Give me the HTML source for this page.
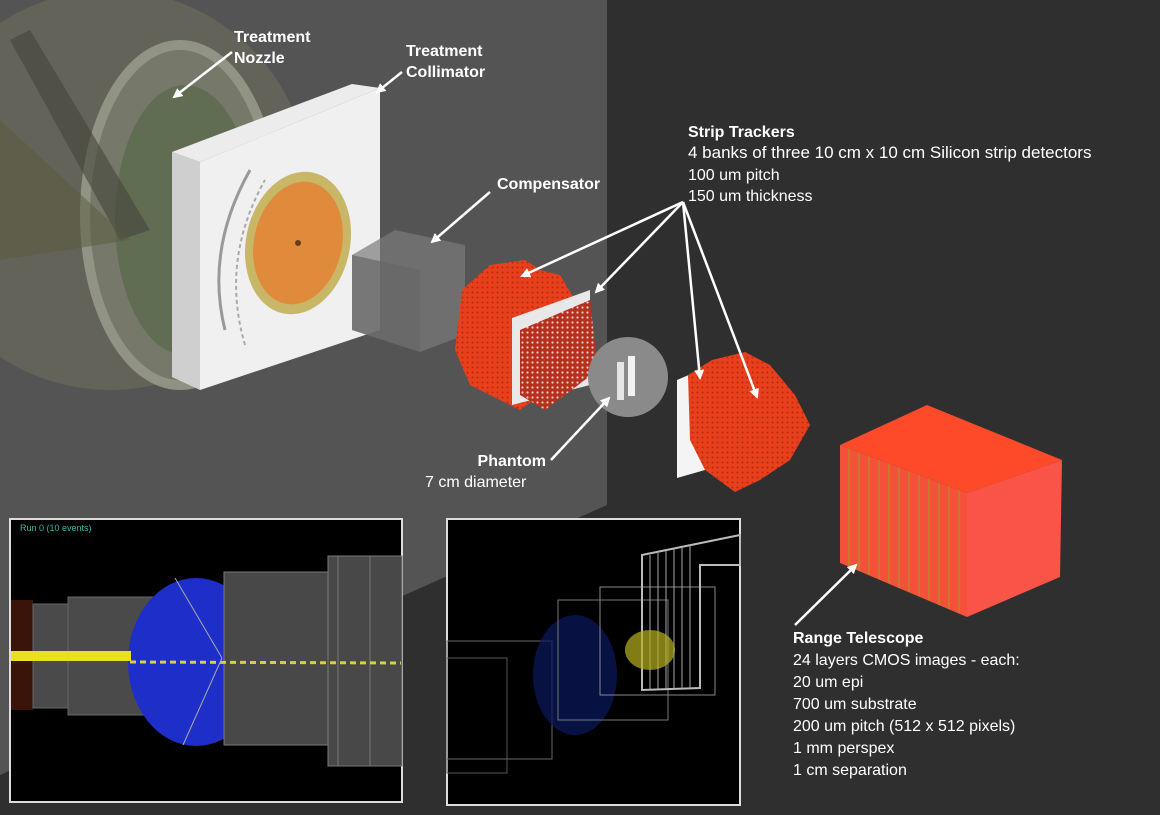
<!DOCTYPE html>
<html><head><meta charset="utf-8"><style>
html,body{margin:0;padding:0;background:#2f2f2f;}
svg{display:block}
text{font-family:"Liberation Sans",Arial,sans-serif;fill:#fff;font-size:16px}
.b{font-weight:bold}
</style></head><body>
<svg width="1160" height="815" viewBox="0 0 1160 815" xmlns="http://www.w3.org/2000/svg">
<defs>
<marker id="ah" markerWidth="10" markerHeight="10" refX="8" refY="5" orient="auto" markerUnits="userSpaceOnUse"><path d="M0,0 L10,5 L0,10 z" fill="#fff"/></marker>
<pattern id="dots" width="5" height="5" patternUnits="userSpaceOnUse"><rect width="5" height="5" fill="#e8401c"/><circle cx="2.5" cy="2.5" r="1" fill="#b52a10"/></pattern>
<pattern id="dots2" width="5" height="5" patternUnits="userSpaceOnUse"><rect width="5" height="5" fill="#b7301e"/><circle cx="2.5" cy="2.5" r="1.1" fill="#f0d0c8"/></pattern>
<pattern id="stripes" width="10" height="10" patternUnits="userSpaceOnUse"><rect width="10" height="10" fill="#f5503a"/><rect x="8" width="2" height="10" fill="#c9782c"/></pattern>
</defs>
<rect width="1160" height="815" fill="#2f2f2f"/>
<polygon points="0,0 607,0 607,505 0,775" fill="#545454"/>
<!-- nozzle -->
<ellipse cx="110" cy="190" rx="200" ry="200" fill="#67665a" opacity="0.8"/>
<ellipse cx="180" cy="215" rx="95" ry="170" fill="#7a7e6e" stroke="#9a9c8c" stroke-width="10" opacity="0.85"/>
<ellipse cx="185" cy="220" rx="70" ry="135" fill="#5a6a4c" opacity="0.75"/>
<polygon points="10,40 30,30 150,230 120,240" fill="#45443a" opacity="0.6"/>
<polygon points="0,120 130,240 0,260" fill="#5a5a3c" opacity="0.5"/>
<!-- collimator -->
<polygon points="172,152 200,162 200,390 172,377" fill="#cfcfcf"/>
<polygon points="172,152 352,84 380,88 200,162" fill="#ececec"/>
<polygon points="200,162 380,88 380,330 200,390" fill="#f0f0f0"/>
<path d="M225,330 Q205,250 250,170" stroke="#999" stroke-width="3" fill="none"/>
<path d="M245,345 Q220,260 265,180" stroke="#aaa" stroke-width="2" fill="none" stroke-dasharray="4 3"/>
<ellipse cx="298" cy="243" rx="52" ry="72" transform="rotate(12 298 243)" fill="#c9b768"/>
<ellipse cx="298" cy="243" rx="44" ry="62" transform="rotate(12 298 243)" fill="#e08a3c"/>
<circle cx="298" cy="243" r="3" fill="#6b3a1a"/>
<!-- compensator -->
<polygon points="352,255 395,230 465,245 465,335 420,352 352,330" fill="#7a7a7a" opacity="0.7"/>
<polygon points="352,255 420,270 420,352 352,330" fill="#666" opacity="0.7"/>
<!-- tracker 1 -->
<polygon points="462,290 490,265 525,260 540,270 560,275 575,300 585,350 570,380 540,395 520,410 470,385 455,350" fill="url(#dots)"/>
<polygon points="512,318 590,290 590,385 512,405" fill="#e8e8e8"/>
<polygon points="520,330 590,300 598,370 545,410 520,395" fill="url(#dots2)"/>
<!-- phantom -->
<circle cx="628" cy="377" r="40" fill="#8a8a8a"/>
<rect x="617" y="362" width="7" height="38" fill="#e6e6e6"/>
<rect x="628" y="356" width="7" height="40" fill="#f2f2f2"/>
<!-- tracker 2 -->
<polygon points="677,380 705,368 705,470 677,478" fill="#f4f4f4"/>
<polygon points="688,375 712,360 745,352 770,365 795,395 810,425 790,460 760,480 735,492 705,470 690,440" fill="url(#dots)"/>
<!-- range telescope -->
<polygon points="840,445 927,405 1062,460 967,493" fill="#ff4a2a"/>
<polygon points="840,445 967,493 967,617 840,563" fill="url(#stripes)"/>
<polygon points="967,493 1062,460 1060,577 967,617" fill="#fa5448"/>
<!-- labels -->
<text class="b" x="234" y="42">Treatment</text>
<text class="b" x="234" y="63">Nozzle</text>
<text class="b" x="406" y="56">Treatment</text>
<text class="b" x="406" y="77">Collimator</text>
<text class="b" x="497" y="189">Compensator</text>
<text class="b" x="688" y="137">Strip Trackers</text>
<text x="688" y="158" style="font-size:17px">4 banks of three 10 cm x 10 cm Silicon strip detectors</text>
<text x="688" y="180">100 um pitch</text>
<text x="688" y="201">150 um thickness</text>
<text class="b" x="546" y="466" text-anchor="end">Phantom</text>
<text x="425" y="487">7 cm diameter</text>
<text class="b" x="793" y="643">Range Telescope</text>
<text x="793" y="665">24 layers CMOS images - each:</text>
<text x="793" y="687">20 um epi</text>
<text x="793" y="709">700 um substrate</text>
<text x="793" y="731">200 um pitch (512 x 512 pixels)</text>
<text x="793" y="753">1 mm perspex</text>
<text x="793" y="775">1 cm separation</text>
<!-- arrows -->
<g stroke="#fff" stroke-width="2.5" fill="none" marker-end="url(#ah)">
<line x1="232" y1="52" x2="174" y2="97"/>
<line x1="402" y1="72" x2="377" y2="92"/>
<line x1="490" y1="192" x2="432" y2="242"/>
<line x1="683" y1="202" x2="522" y2="276"/>
<line x1="683" y1="202" x2="596" y2="292"/>
<line x1="683" y1="202" x2="700" y2="378"/>
<line x1="683" y1="202" x2="757" y2="397"/>
<line x1="551" y1="460" x2="609" y2="398"/>
<line x1="795" y1="625" x2="856" y2="565"/>
</g>
<!-- inset 1 -->
<rect x="10" y="519" width="392" height="283" fill="#000" stroke="#ddd" stroke-width="2"/>
<text x="20" y="531" style="font-size:9px;fill:#3ab8a8">Run 0 (10 events)</text>
<rect x="11" y="600" width="22" height="110" fill="#3a1408"/>
<rect x="33" y="604" width="40" height="104" fill="#4a4a4a" stroke="#666"/>
<rect x="68" y="597" width="90" height="118" fill="#4a4a4a" stroke="#666"/>
<ellipse cx="196" cy="662" rx="68" ry="84" fill="#1e2ec8"/>
<rect x="224" y="572" width="105" height="173" fill="#484848" stroke="#777"/>
<rect x="328" y="556" width="74" height="210" fill="#484848" stroke="#777"/>
<line x1="338" y1="556" x2="338" y2="766" stroke="#777"/>
<line x1="370" y1="556" x2="370" y2="766" stroke="#777"/>
<rect x="11" y="651" width="120" height="10" fill="#e8e020"/>
<line x1="130" y1="662" x2="401" y2="663" stroke="#d8d040" stroke-width="3" stroke-dasharray="6 4"/>
<line x1="175" y1="578" x2="222" y2="658" stroke="#aaa"/>
<line x1="222" y1="658" x2="183" y2="745" stroke="#aaa"/>
<!-- inset 2 -->
<rect x="447" y="519" width="293" height="286" fill="#000" stroke="#ddd" stroke-width="2"/>
<rect x="447" y="641" width="105" height="118" fill="none" stroke="#666"/>
<rect x="447" y="658" width="60" height="115" fill="none" stroke="#555"/>
<ellipse cx="575" cy="675" rx="42" ry="60" fill="#0a1a60" opacity="0.7"/>
<rect x="558" y="600" width="110" height="120" fill="none" stroke="#777"/>
<rect x="600" y="587" width="115" height="108" fill="none" stroke="#888"/>
<polygon points="642,555 740,535 740,565 700,565 700,688 642,690" fill="none" stroke="#bbb" stroke-width="2"/>
<g stroke="#aaa" stroke-width="1">
<line x1="650" y1="555" x2="650" y2="690"/><line x1="658" y1="553" x2="658" y2="690"/><line x1="666" y1="551" x2="666" y2="689"/><line x1="674" y1="549" x2="674" y2="689"/><line x1="682" y1="547" x2="682" y2="689"/><line x1="690" y1="545" x2="690" y2="688"/>
</g>
<ellipse cx="650" cy="650" rx="25" ry="20" fill="#b8b020" opacity="0.7"/>
</svg>
</body></html>
